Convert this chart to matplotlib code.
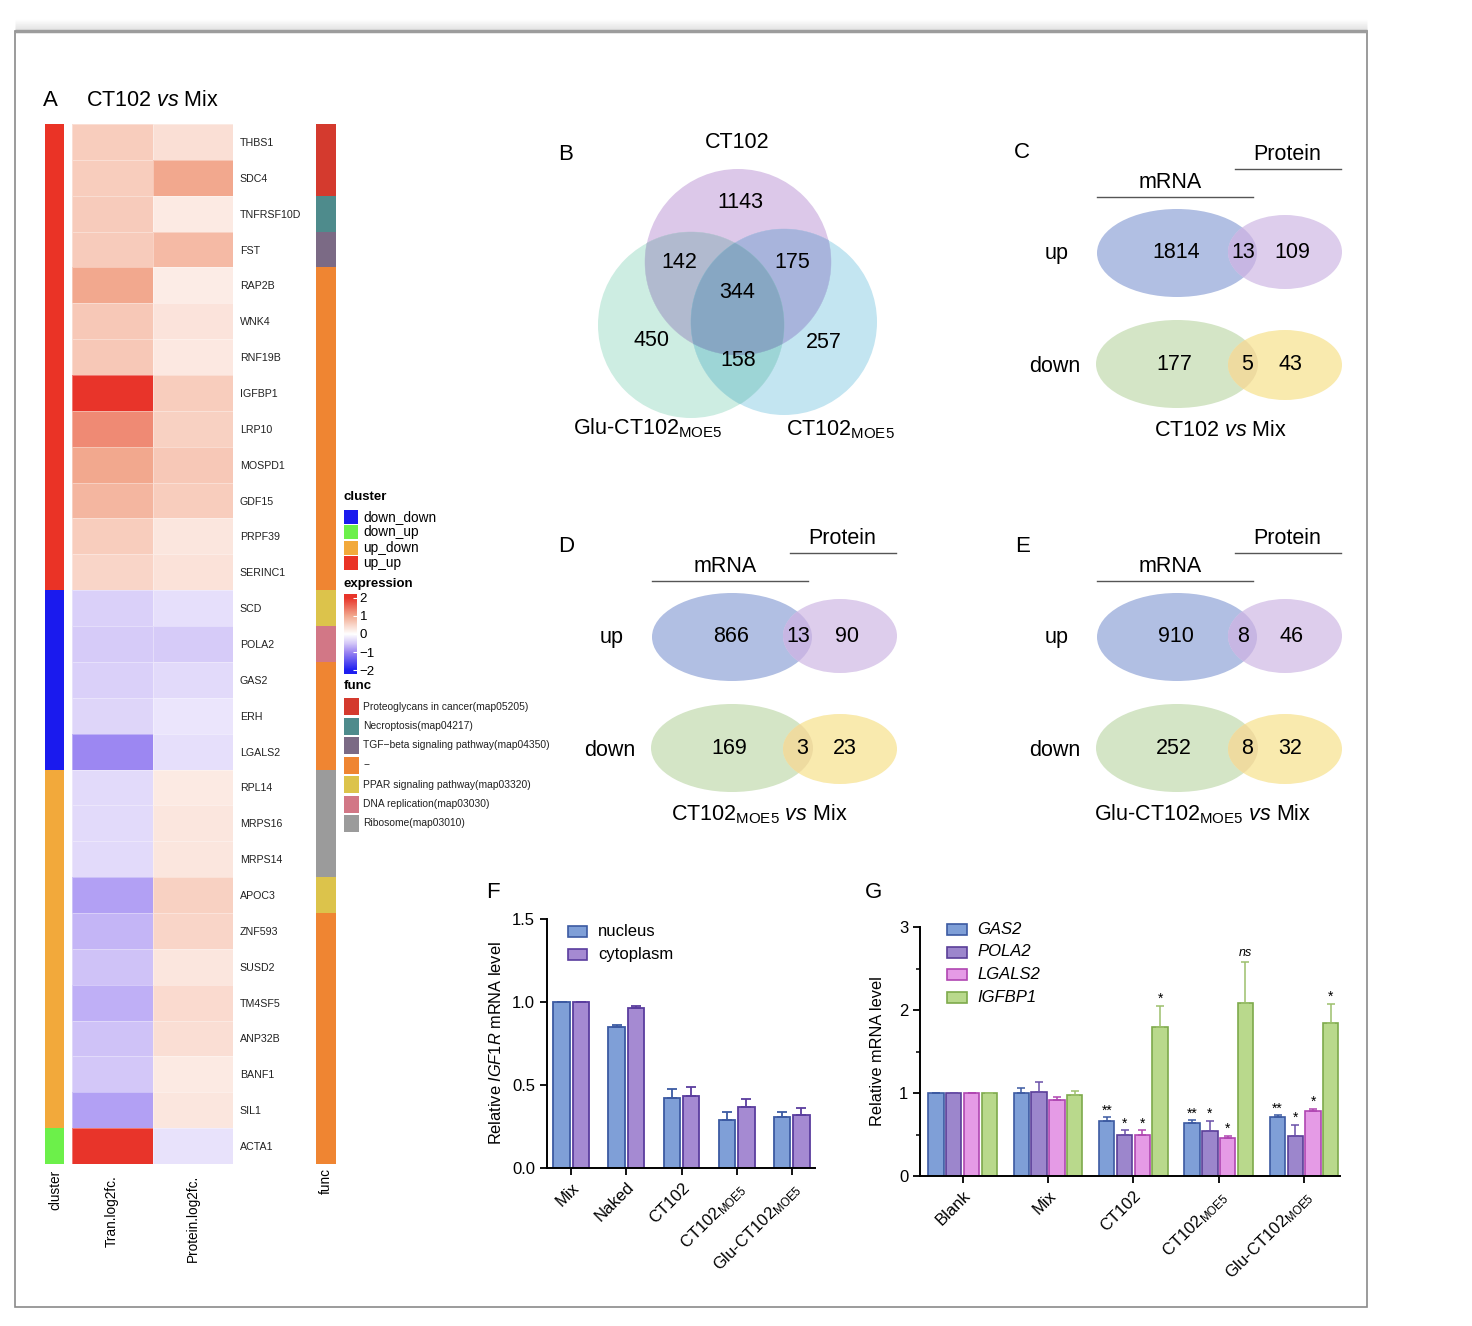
import numpy as np
import matplotlib
matplotlib.use("Agg")
import matplotlib.pyplot as plt
from matplotlib.patches import Rectangle, Circle, Ellipse, Polygon
from matplotlib.colors import LinearSegmentedColormap, ListedColormap, to_rgb

plt.rcParams['font.family'] = ['Liberation Sans', 'DejaVu Sans']
plt.rcParams['mathtext.fontset'] = 'custom'
plt.rcParams['mathtext.rm'] = 'Liberation Sans'
plt.rcParams['mathtext.it'] = 'Liberation Sans:italic'
plt.rcParams['mathtext.bf'] = 'Liberation Sans:bold'

# ------------------------------------------------------------------ DATA
genes = ["THBS1", "SDC4", "TNFRSF10D", "FST", "RAP2B", "WNK4", "RNF19B", "IGFBP1",
         "LRP10", "MOSPD1", "GDF15", "PRPF39", "SERINC1",
         "SCD", "POLA2", "GAS2", "ERH", "LGALS2",
         "RPL14", "MRPS16", "MRPS14", "APOC3", "ZNF593", "SUSD2", "TM4SF5", "ANP32B",
         "BANF1", "SIL1", "ACTA1"]
cluster = ["up_up"] * 13 + ["down_down"] * 5 + ["up_down"] * 10 + ["down_up"]
tran_log2fc = [0.6, 0.6, 0.62, 0.62, 1.0, 0.65, 0.65, 2.0, 1.25, 1.0, 0.85, 0.6, 0.5,
               -0.45, -0.5, -0.45, -0.4, -1.0,
               -0.35, -0.35, -0.35, -0.8, -0.65, -0.55, -0.7, -0.55, -0.52, -0.8,
               2.0]
protein_log2fc = [0.38, 1.0, 0.25, 0.8, 0.22, 0.33, 0.28, 0.6, 0.55, 0.65, 0.6, 0.3, 0.35,
                  -0.3, -0.5, -0.35, -0.25, -0.3,
                  0.25, 0.3, 0.3, 0.55, 0.5, 0.3, 0.45, 0.4, 0.25, 0.3,
                  -0.28]
func_names = ["Proteoglycans in cancer(map05205)", "Necroptosis(map04217)",
              "TGF\u2212beta signaling pathway(map04350)", "\u2212",
              "PPAR signaling pathway(map03320)", "DNA replication(map03030)",
              "Ribosome(map03010)"]
func_idx = [0, 0, 1, 2, 3, 3, 3, 3, 3, 3, 3, 3, 3,
            4, 5, 3, 3, 3,
            6, 6, 6, 4, 3, 3, 3, 3, 3, 3, 3]
cluster_names = ["down_down", "down_up", "up_down", "up_up"]

venn_b_sets = ["CT102", "Glu-CT102$_{\\mathrm{MOE5}}$", "CT102$_{\\mathrm{MOE5}}$"]
venn_b_counts = {"A": 1143, "AB": 142, "AC": 175, "ABC": 344, "B": 450, "BC": 158, "C": 257}

comparisons = ["CT102 $\\mathit{vs}$ Mix",
               "CT102$_{\\mathrm{MOE5}}$ $\\mathit{vs}$ Mix",
               "Glu-CT102$_{\\mathrm{MOE5}}$ $\\mathit{vs}$ Mix"]
up_mrna_only = [1814, 866, 910]
up_both = [13, 13, 8]
up_protein_only = [109, 90, 46]
down_mrna_only = [177, 169, 252]
down_both = [5, 3, 8]
down_protein_only = [43, 23, 32]

f_groups = ["Mix", "Naked", "CT102", "CT102$_{\\mathrm{MOE5}}$", "Glu-CT102$_{\\mathrm{MOE5}}$"]
nucleus_mean = [1.0, 0.85, 0.42, 0.29, 0.31]
nucleus_err = [0.0, 0.012, 0.055, 0.045, 0.025]
cyto_mean = [1.0, 0.965, 0.435, 0.37, 0.32]
cyto_err = [0.0, 0.008, 0.055, 0.045, 0.042]

g_groups = ["Blank", "Mix", "CT102", "CT102$_{\\mathrm{MOE5}}$", "Glu-CT102$_{\\mathrm{MOE5}}$"]
g_genes = ["GAS2", "POLA2", "LGALS2", "IGFBP1"]
gas2_mean = [1.0, 1.0, 0.665, 0.64, 0.705]
gas2_err = [0.0, 0.055, 0.04, 0.03, 0.025]
pola2_mean = [1.0, 1.015, 0.49, 0.54, 0.48]
pola2_err = [0.0, 0.12, 0.06, 0.125, 0.14]
lgals2_mean = [1.0, 0.92, 0.50, 0.46, 0.785]
lgals2_err = [0.0, 0.03, 0.05, 0.02, 0.025]
igfbp1_mean = [1.0, 0.98, 1.80, 2.08, 1.84]
igfbp1_err = [0.0, 0.05, 0.25, 0.50, 0.23]
g_sig = [["", "", "", ""], ["", "", "", ""],
         ["**", "*", "*", "*"], ["**", "*", "*", "ns"], ["**", "*", "*", "*"]]

# ------------------------------------------------------------------ STYLE
W, H = 1472, 1326
fig = plt.figure(figsize=(W / 100, H / 100), dpi=100)


def px_axes(x0, y0, x1, y1):
    return fig.add_axes([x0 / W, 1 - y1 / H, (x1 - x0) / W, (y1 - y0) / H])


bg = fig.add_axes([0, 0, 1, 1])
bg.set_xlim(0, W)
bg.set_ylim(H, 0)
bg.axis('off')

# frame with soft shadow on top
for i, a in enumerate(np.linspace(0.01, 0.16, 10)):
    bg.plot([15, 1367], [20 + i, 20 + i], color='gray', alpha=a, lw=1, solid_capstyle='butt')
bg.add_patch(Rectangle((15, 31), 1352, 1276, fill=False, edgecolor='#8a8a8a', lw=1.2))
bg.plot([15, 1367], [31, 31], color='#9c9c9c', lw=2.5, solid_capstyle='butt')

cluster_colors = ["#1A1AEE", "#6CF04A", "#F2A93B", "#EA3326"]
func_colors = ["#D43A2E", "#4E8B8C", "#7B6A85", "#EF8532", "#DCC34B", "#D27786", "#9B9B9B"]
expr_cmap = LinearSegmentedColormap.from_list(
    'expr', [(0, '#1E1EF0'), (0.25, '#9C86F2'), (0.375, '#D6CAF8'), (0.5, '#FFFFFF'),
             (0.625, '#F9D6C9'), (0.75, '#F2A98F'), (1.0, '#E8342A')])

PL = 16  # panel letter size
# ------------------------------------------------------------------ PANEL A
bg.text(50, 100, "A", fontsize=PL, ha='center', va='center')
bg.text(86, 101, "CT102 $\\mathit{vs}$ Mix", fontsize=15.5, ha='left', va='center')

n = len(genes)
axc = px_axes(45, 124, 64, 1164)
cl_idx = np.array([cluster_names.index(c) for c in cluster])[:, None]
axc.pcolormesh(cl_idx, cmap=ListedColormap(cluster_colors), vmin=-0.5, vmax=3.5)
axc.set_ylim(n, 0)
axc.axis('off')

axh = px_axes(72, 124, 233, 1164)
mat = np.column_stack([tran_log2fc, protein_log2fc])
axh.pcolormesh(mat, cmap=expr_cmap, vmin=-2, vmax=2, edgecolors=(1, 1, 1, 0.35), linewidth=0.5)
axh.set_xlim(0, 2)
axh.set_ylim(n, 0)
axh.set_xticks([])
axh.set_yticks(np.arange(n) + 0.5)
axh.set_yticklabels(genes, fontsize=7.7, color='#222222')
axh.yaxis.tick_right()
axh.tick_params(axis='y', length=0, pad=5)
for s in axh.spines.values():
    s.set_visible(False)

axfu = px_axes(316, 124, 336, 1164)
axfu.pcolormesh(np.array(func_idx)[:, None], cmap=ListedColormap(func_colors),
                vmin=-0.5, vmax=len(func_colors) - 0.5)
axfu.set_ylim(n, 0)
axfu.axis('off')

for x, y, t in [(55, 1170, "cluster"), (112, 1175, "Tran.log2fc."),
                (193, 1175, "Protein.log2fc."), (326, 1168, "func")]:
    bg.text(x, y, t, rotation=90, ha='center', va='top', fontsize=9.8)

# legend
bg.text(344, 497, "cluster", fontsize=9.5, fontweight='bold', ha='left', va='center')
for i, (nm, col) in enumerate(zip(cluster_names, cluster_colors)):
    y0 = 510 + i * 15.3
    bg.add_patch(Rectangle((344, y0), 14, 14, color=col, lw=0))
    bg.text(363, y0 + 7, nm, fontsize=9.8, ha='left', va='center')
bg.text(344, 584, "expression", fontsize=9.5, fontweight='bold', ha='left', va='center')
axcb = px_axes(344, 594, 357, 674)
grad = np.linspace(2.2, -2.2, 256)[:, None]
axcb.imshow(np.clip(grad, -2, 2), cmap=expr_cmap, vmin=-2, vmax=2, aspect='auto',
            extent=(0, 1, -2.2, 2.2))
axcb.set_ylim(-2.2, 2.2)
axcb.set_xticks([])
axcb.set_yticks([-2, -1, 0, 1, 2])
axcb.set_yticklabels(["\u22122", "\u22121", "0", "1", "2"], fontsize=9.5)
axcb.yaxis.tick_right()
axcb.tick_params(axis='y', length=3, direction='in', color='white', pad=2)
for s in axcb.spines.values():
    s.set_visible(False)
bg.text(344, 686, "func", fontsize=9.5, fontweight='bold', ha='left', va='center')
for i, (nm, col) in enumerate(zip(func_names, func_colors)):
    y0 = 698 + i * 19.5
    bg.add_patch(Rectangle((344, y0), 15, 17, color=col, lw=0))
    bg.text(363, y0 + 8.5, nm, fontsize=7.4, ha='left', va='center', color='#222222')

# ------------------------------------------------------------------ PANEL B
bg.text(566, 155, "B", fontsize=PL, ha='center', va='center')
circ = [((738, 262), 93), ((691, 325), 93), ((784, 322), 93)]
ccols = ['#DCC8E9', '#CDEDE2', '#C3E5F1']


def inside(p, c, r):
    return (p[:, 0] - c[0]) ** 2 + (p[:, 1] - c[1]) ** 2 <= r ** 2 + 1e-6


def region_poly(ids, m=720):
    pts = []
    t = np.linspace(0, 2 * np.pi, m, endpoint=False)
    for i in ids:
        (cx, cy), r = circ[i]
        p = np.column_stack([cx + r * np.cos(t), cy + r * np.sin(t)])
        mask = np.ones(len(p), bool)
        for j in ids:
            if j != i:
                mask &= inside(p, *circ[j])
        pts.append(p[mask])
    pts = np.vstack(pts)
    cen = pts.mean(axis=0)
    ang = np.arctan2(pts[:, 1] - cen[1], pts[:, 0] - cen[0])
    return pts[np.argsort(ang)]


for (c, r), col in zip(circ, ccols):
    bg.add_patch(Circle(c, r, color=col, lw=0))
for ids in [(0, 1), (0, 2), (1, 2), (0, 1, 2)]:
    col = np.prod([to_rgb(ccols[i]) for i in ids], axis=0)
    bg.add_patch(Polygon(region_poly(ids), closed=True, facecolor=col, edgecolor=col, lw=0.3))

VF = 15.5
bpos = {"A": (740, 203), "AB": (679, 262), "AC": (792, 262), "ABC": (737, 293),
        "B": (652, 341), "BC": (738, 361), "C": (824, 343)}
for k, v in venn_b_counts.items():
    bg.text(*bpos[k], str(v), fontsize=VF, ha='center', va='center')
bg.text(737, 143, venn_b_sets[0], fontsize=VF, ha='center', va='center')
bg.text(648, 428, venn_b_sets[1], fontsize=VF, ha='center', va='center')
bg.text(840, 430, venn_b_sets[2], fontsize=VF, ha='center', va='center')

# ------------------------------------------------------------------ PANELS C D E
panels = [("C", (1177, 253), (1022, 153), 1221),
          ("D", (732, 637), (566, 547), 759),
          ("E", (1177, 637), (1023, 547), 1203)]
for k, (letter, (bx, by), lp, tx) in enumerate(panels):
    bg.text(*lp, letter, fontsize=PL, ha='center', va='center')
    # up
    e1 = Ellipse((bx, by), 160, 88, color='#B1BFE3', lw=0)
    e2 = Ellipse((bx + 108, by - 1), 114, 74, color='#DDCDEC', lw=0)
    e3 = Ellipse((bx + 108, by - 1), 114, 74, color='#C7B6E3', lw=0)
    for e in (e1, e2, e3):
        bg.add_patch(e)
    e3.set_clip_path(e1)
    # down
    g1 = Ellipse((bx, by + 111), 162, 88, color='#D4E5C6', lw=0)
    g2 = Ellipse((bx + 108, by + 112), 114, 70, color='#F9EAAE', lw=0)
    g3 = Ellipse((bx + 108, by + 112), 114, 70, color='#EEDBA0', lw=0)
    for e in (g1, g2, g3):
        bg.add_patch(e)
    g3.set_clip_path(g1)
    fs = VF
    bg.text(bx - 1, by, str(up_mrna_only[k]), fontsize=fs, ha='center', va='center')
    bg.text(bx + 66, by, str(up_both[k]), fontsize=fs, ha='center', va='center')
    bg.text(bx + 115, by, str(up_protein_only[k]), fontsize=fs, ha='center', va='center')
    bg.text(bx - 3, by + 112, str(down_mrna_only[k]), fontsize=fs, ha='center', va='center')
    bg.text(bx + 70, by + 112, str(down_both[k]), fontsize=fs, ha='center', va='center')
    bg.text(bx + 113, by + 112, str(down_protein_only[k]), fontsize=fs, ha='center', va='center')
    bg.text(bx - 120, by + 1, "up", fontsize=fs, ha='center', va='center')
    bg.text(bx - 122, by + 113, "down", fontsize=fs, ha='center', va='center')
    bg.text(bx - 7, by - 71, "mRNA", fontsize=fs, ha='center', va='center')
    bg.plot([bx - 80, bx + 76], [by - 56, by - 56], color='#555555', lw=1)
    bg.text(bx + 110, by - 99, "Protein", fontsize=fs, ha='center', va='center')
    bg.plot([bx + 58, bx + 164], [by - 84, by - 84], color='#555555', lw=1)
    bg.text(tx, by + 177, comparisons[k], fontsize=fs, ha='center', va='center')

# ------------------------------------------------------------------ PANEL F
bg.text(493, 893, "F", fontsize=PL, ha='center', va='center')
axf = px_axes(547, 919, 815, 1168)
axf.set_facecolor('none')
xf = np.arange(len(f_groups))
nuc_fill, nuc_edge = '#7F9FD7', '#3C5AA2'
cyt_fill, cyt_edge = '#A58AD2', '#5A3D9E'
for off, m, e, fc, ec in [(-0.175, nucleus_mean, nucleus_err, nuc_fill, nuc_edge),
                          (0.175, cyto_mean, cyto_err, cyt_fill, cyt_edge)]:
    axf.bar(xf + off, m, 0.30, color=fc, edgecolor=ec, lw=1.3, zorder=2)
    axf.errorbar(xf + off, m, yerr=[np.zeros(len(m)), e], fmt='none', ecolor=ec,
                 elinewidth=1.3, capsize=3.5, capthick=1.3, zorder=3)
axf.set_xlim(-0.44, 4.42)
axf.set_ylim(0, 1.5)
axf.set_yticks([0, 0.5, 1.0, 1.5])
axf.set_yticklabels(["0.0", "0.5", "1.0", "1.5"])
axf.set_xticks(xf)
axf.set_xticklabels(f_groups, rotation=45, ha='right', rotation_mode='anchor')
axf.tick_params(axis='both', labelsize=12, width=1.3, length=5)
axf.tick_params(axis='x', labelsize=12)
for s in ['top', 'right']:
    axf.spines[s].set_visible(False)
for s in ['left', 'bottom']:
    axf.spines[s].set_linewidth(1.4)
axf.set_ylabel("Relative $\\mathit{IGF1R}$ mRNA level", fontsize=11.8, labelpad=6)
for i, (nm, fc, ec) in enumerate([("nucleus", nuc_fill, nuc_edge), ("cytoplasm", cyt_fill, cyt_edge)]):
    y0 = 926 + i * 23
    bg.add_patch(Rectangle((568, y0), 19, 11, facecolor=fc, edgecolor=ec, lw=1.2))
    bg.text(598, y0 + 5.5, nm, fontsize=12, ha='left', va='center')

# ------------------------------------------------------------------ PANEL G
bg.text(873, 893, "G", fontsize=PL, ha='center', va='center')
axg = px_axes(920, 927, 1340, 1176)
axg.set_facecolor('none')
xg = np.arange(len(g_groups))
g_means = [gas2_mean, pola2_mean, lgals2_mean, igfbp1_mean]
g_errs = [gas2_err, pola2_err, lgals2_err, igfbp1_err]
g_fill = ['#7F9FD7', '#9C86CC', '#E59BE6', '#B9D98C']
g_edge = ['#3C5AA2', '#5A3E98', '#B046B2', '#7EAA4C']
g_ecol = ['#3C5AA2', '#6A50A8', '#B046B2', '#9CC06C']
pitch = 0.208
for j in range(4):
    xs = xg + (j - 1.5) * pitch
    axg.bar(xs, g_means[j], 0.18, color=g_fill[j], edgecolor=g_edge[j], lw=1.2, zorder=2)
    axg.errorbar(xs, g_means[j], yerr=[np.zeros(5), g_errs[j]], fmt='none', ecolor=g_ecol[j],
                 elinewidth=1.1, capsize=3, capthick=1.1, zorder=3)
    for i in range(5):
        s = g_sig[i][j]
        if s:
            top = g_means[j][i] + g_errs[j][i]
            if s == 'ns':
                axg.text(xs[i], top + 0.04, s, fontsize=9, style='italic', ha='center', va='bottom')
            else:
                axg.text(xs[i], top + 0.0, s, fontsize=10, ha='center', va='bottom')
axg.set_xlim(-0.5, 4.42)
axg.set_ylim(0, 3)
axg.set_yticks([0, 1, 2, 3])
axg.set_yticks([0.5, 1.5, 2.5], minor=True)
axg.set_xticks(xg)
axg.set_xticklabels(g_groups, rotation=45, ha='right', rotation_mode='anchor')
axg.tick_params(axis='both', labelsize=12, width=1.3, length=5)
axg.tick_params(axis='y', which='minor', width=1.1, length=3)
axg.tick_params(axis='x', labelsize=12)
for s in ['top', 'right']:
    axg.spines[s].set_visible(False)
for s in ['left', 'bottom']:
    axg.spines[s].set_linewidth(1.4)
axg.set_ylabel("Relative mRNA level", fontsize=11.8, labelpad=10)
for j, nm in enumerate(g_genes):
    y0 = 924 + j * 22.5
    bg.add_patch(Rectangle((947, y0), 20, 11, facecolor=g_fill[j], edgecolor=g_edge[j], lw=1.2))
    bg.text(977, y0 + 5.5, nm, fontsize=12, style='italic', ha='left', va='center')

fig.savefig("out.png", dpi=100)
